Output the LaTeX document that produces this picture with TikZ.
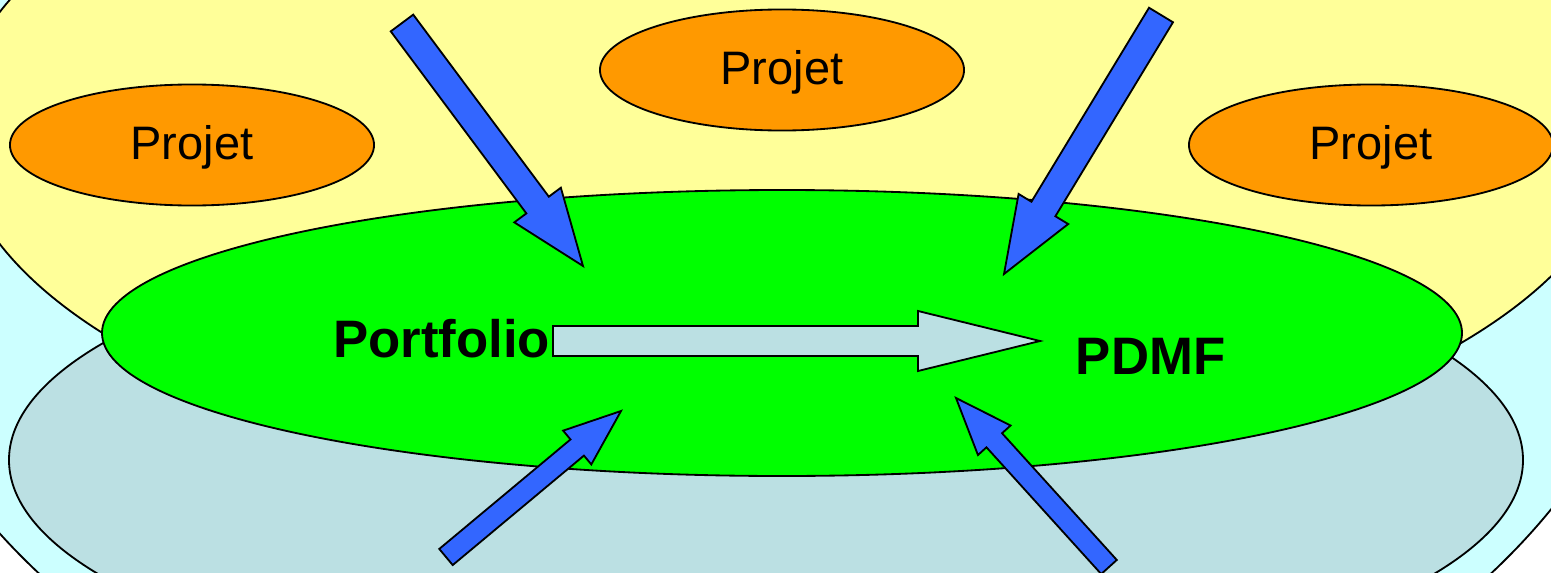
\documentclass[tikz,border=0pt]{standalone}
\usepackage{fontspec}
\setmainfont{Liberation Sans}
\usetikzlibrary{shapes.geometric,calc}

\definecolor{skycyan}{HTML}{CCFFFF}
\definecolor{paleyellow}{HTML}{FFFF99}
\definecolor{greyblue}{HTML}{BBE0E3}
\definecolor{brightgreen}{HTML}{00FF00}
\definecolor{projorange}{HTML}{FF9900}
\definecolor{arrowblue}{HTML}{3366FF}

% block arrow: tail, tip, half shaft, half head, head length, style
\newcommand{\blockarrow}[6]{%
  \coordinate (#1-#2) at ($(#2)!#5!(#1)$);
  \draw[#6] ($(#1)!#3!90:(#2)$) -- ($(#1-#2)!#3!90:(#2)$) -- ($(#1-#2)!#4!90:(#2)$) -- (#2)
    -- ($(#1-#2)!#4!-90:(#2)$) -- ($(#1-#2)!#3!-90:(#2)$) -- ($(#1)!#3!-90:(#2)$) -- cycle;
}

\begin{document}
\begin{tikzpicture}[x=0.025cm, y=-0.025cm, line width=1.3pt,
    projet/.style={ellipse, draw, fill=projorange, inner sep=0pt,
      minimum width=9.1cm, minimum height=3.025cm, text height=24pt, text depth=2.7pt,
      font=\fontsize{33.4}{40}\selectfont},
    bigword/.style={inner sep=0pt, font=\fontsize{37.5}{45}\selectfont\bfseries},
    bluearrow/.style={draw, fill=arrowblue, line join=miter},
    greyarrow/.style={draw, fill=greyblue, line join=miter}]
    \useasboundingbox (0,0) rectangle (1551,572);
    \clip (0,0) rectangle (1551,572);

    % Background
    \fill[white] (0,0) rectangle (1551,572);
    \draw[fill=skycyan] (765,200) ellipse [x radius=903, y radius=628];
    \draw[fill=paleyellow] (790,128) ellipse [x radius=834, y radius=362];
    \draw[fill=greyblue] (766,460) ellipse [x radius=757, y radius=242];
    \draw[fill=brightgreen] (782,333) ellipse [x radius=680, y radius=143];

    % Projects
    \node[projet] (projA) at (192,145) {Projet};
    \node[projet] (projB) at (782,70) {Projet};
    \node[projet] (projC) at (1371,145) {Projet};

    % Portfolio -> PDMF
    \node[bigword, anchor=east] (portfolio) at (551,339) {Portfolio};
    \node[bigword, anchor=west] (pdmf) at (1075,356) {PDMF};
    \coordinate (flowtail) at (553,341);
    \coordinate (flowtip) at (1040,341);
    \blockarrow{flowtail}{flowtip}{0.375cm}{0.75cm}{3.05cm}{greyarrow}

    % Inputs
    \coordinate (inA) at (402,23);   \coordinate (tipA) at (583,266);
    \coordinate (inB) at (1161,15);  \coordinate (tipB) at (1004,274);
    \coordinate (inC) at (446,557);  \coordinate (tipC) at (621,411);
    \coordinate (inD) at (1109,567); \coordinate (tipD) at (956,398);
    \blockarrow{inA}{tipA}{0.35cm}{0.725cm}{1.9cm}{bluearrow}
    \blockarrow{inB}{tipB}{0.35cm}{0.725cm}{1.9cm}{bluearrow}
    \blockarrow{inC}{tipC}{0.2625cm}{0.55cm}{1.425cm}{bluearrow}
    \blockarrow{inD}{tipD}{0.2625cm}{0.55cm}{1.425cm}{bluearrow}
\end{tikzpicture}
\end{document}
